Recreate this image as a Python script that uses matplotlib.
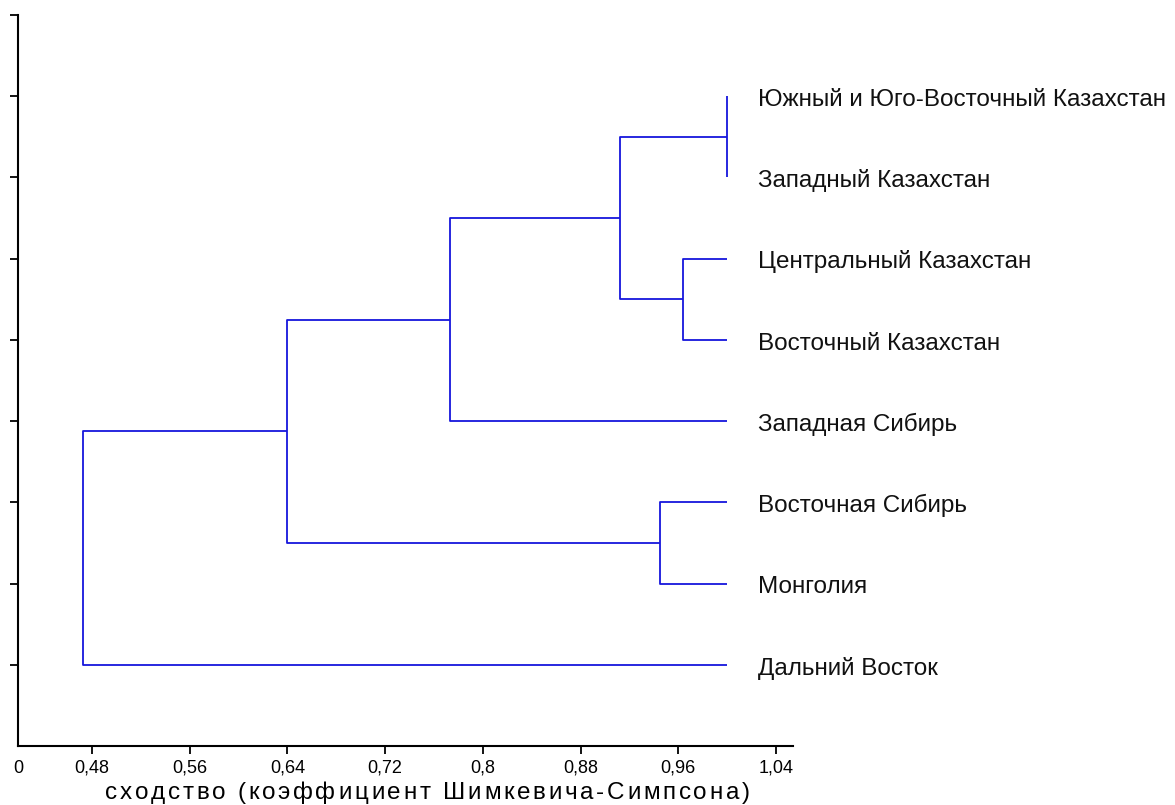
import matplotlib.pyplot as plt
import numpy as np
from matplotlib.font_manager import FontProperties
from matplotlib.textpath import TextToPath

plt.rcParams['font.family'] = ['Liberation Sans', 'DejaVu Sans']

# leaves, top to bottom
leaves = ['Южный и Юго-Восточный Казахстан', 'Западный Казахстан',
          'Центральный Казахстан', 'Восточный Казахстан', 'Западная Сибирь',
          'Восточная Сибирь', 'Монголия', 'Дальний Восток']
leaf_sim = 1.0
# merges: (child a, child b, similarity); ints are leaves, 'mN' are earlier merges
merges = [
    (0, 1, 1.0),
    (2, 3, 0.964),
    ('m0', 'm1', 0.912),
    ('m2', 4, 0.773),
    (5, 6, 0.945),
    ('m3', 'm4', 0.64),
    ('m5', 7, 0.473),
]
xticks = [0.48, 0.56, 0.64, 0.72, 0.80, 0.88, 0.96, 1.04]
xmin, xmax = 0.4194, 1.054
xlabel = 'сходство (коэффициент Шимкевича-Симпсона)'

W, H = 1175, 805
fig = plt.figure(figsize=(W / 100, H / 100), dpi=100)
ax = fig.add_axes([18/W, 59/H, 775/W, 731/H])

n = len(leaves)
pos = {}
for i in range(n):
    pos[i] = (leaf_sim, n - i)

line_kw = dict(color='#1616dc', lw=1.3, solid_capstyle='butt')
for k, (a, b, s) in enumerate(merges):
    xa, ya = pos[a]
    xb, yb = pos[b]
    ax.plot([xa, s, s, xb], [ya, ya, yb, yb], **line_kw)
    pos['m%d' % k] = (s, (ya + yb) / 2)

for i, name in enumerate(leaves):
    ax.annotate(name, (1.0255, n - i), xytext=(0, -7), textcoords='offset points',
                fontsize=17.5, va='baseline', ha='left', annotation_clip=False,
                color='#111111')

ax.set_xlim(xmin, xmax)
ax.set_ylim(0, 9)
ax.set_xticks([xmin] + xticks)
ax.set_xticklabels(['0'] + [('%g' % t).replace('.', ',') for t in xticks],
                   fontsize=13)
ax.set_yticks(range(1, 10))
ax.set_yticklabels([])
ax.tick_params(axis='both', direction='out', length=6, width=1.3, color='black')
ax.tick_params(axis='x', pad=4)
ax.xaxis.get_major_ticks()[0].tick1line.set_visible(False)
for side in ['top', 'right']:
    ax.spines[side].set_visible(False)
for side in ['left', 'bottom']:
    ax.spines[side].set_linewidth(1.5)

# letter-spaced axis title, placed glyph by glyph
fs = 17.5
prop = FontProperties(family='Liberation Sans', size=fs)
t2p = TextToPath()
wa = t2p.get_text_width_height_descent('aa', prop, ismath=False)[0]
widths = []
for ch in xlabel:
    if ch == ' ':
        w = t2p.get_text_width_height_descent('a a', prop, ismath=False)[0] - wa
    else:
        w = t2p.get_text_width_height_descent(ch, prop, ismath=False)[0]
    widths.append(w * 100 / 72)
x0, x1 = 105, 750
track = (x1 - x0 - sum(widths)) / (len(xlabel) - 1)
x = x0
for ch, w in zip(xlabel, widths):
    fig.text(x / W, 6.0 / H, ch, fontsize=fs, ha='left', va='baseline',
             family='Liberation Sans')
    x += w + track

fig.savefig('out.png', dpi=100)
